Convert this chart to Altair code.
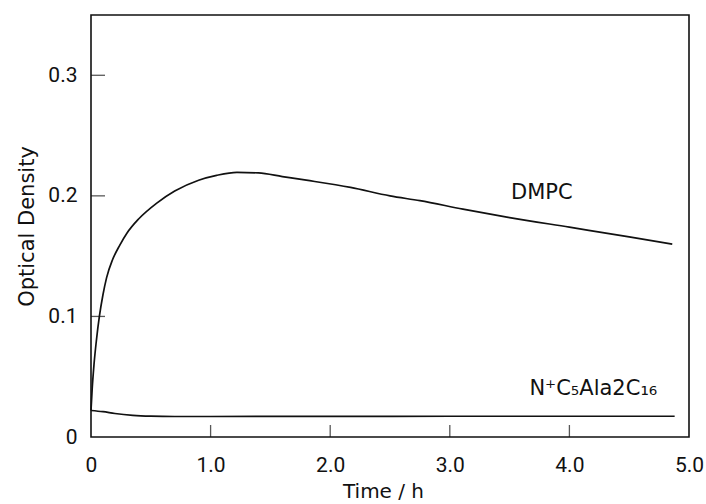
import altair as alt
import pandas as pd

# DMPC curve (time h, optical density)
dmpc_t = [0, 0.01, 0.025, 0.045, 0.07, 0.1, 0.13, 0.18, 0.24, 0.3, 0.4, 0.55, 0.7, 0.9,
          1.05, 1.22, 1.4, 1.6, 1.8, 2.17, 2.5, 2.75, 3.11, 3.5, 4.0, 4.5, 4.86]
dmpc_od = [0.022, 0.040, 0.060, 0.080, 0.100, 0.118, 0.132, 0.147, 0.159, 0.169, 0.181, 0.194,
           0.204, 0.213, 0.217, 0.2195, 0.219, 0.216, 0.213, 0.207, 0.200, 0.196, 0.189,
           0.182, 0.174, 0.166, 0.160]

# N+C5Ala2C16 curve
ala_t = [0, 0.1, 0.2, 0.35, 0.5, 0.7, 1.0, 2.0, 3.0, 4.0, 4.88]
ala_od = [0.022, 0.021, 0.0195, 0.018, 0.0173, 0.0170, 0.0170, 0.0171, 0.0172, 0.0172, 0.0172]

x_ticks = [1.0, 2.0, 3.0, 4.0]
y_ticks = [0.1, 0.2, 0.3]

label_text = ["DMPC", "N⁺C₅Ala2C₁₆"]
label_t = [3.77, 4.2]
label_od = [0.202, 0.040]

df = pd.concat([
    pd.DataFrame({"t": dmpc_t, "od": dmpc_od, "series": "DMPC"}),
    pd.DataFrame({"t": ala_t, "od": ala_od, "series": "Ala"}),
])

xs = alt.Scale(domain=[0, 5], nice=False, zero=False)
ys = alt.Scale(domain=[0, 0.35], nice=False, zero=False)

lab_expr = "datum.value == 0 ? '0' : format(datum.value, '.1f')"
FONT = "Roboto"

x_axis = alt.Axis(values=[0, 1, 2, 3, 4, 5], labelExpr=lab_expr, grid=False, domain=False,
                  ticks=False, tickSize=0, labelPadding=17, labelFont=FONT, labelFontSize=21,
                  labelColor="#111", title="Time / h", titleFont="DejaVu Sans",
                  titleFontSize=20, titleFontWeight="normal", titleColor="#111",
                  titleX=292, titleY=54, titleBaseline="middle", labelFlush=False)
y_axis = alt.Axis(values=[0, 0.1, 0.2, 0.3], labelExpr=lab_expr, grid=False, domain=False,
                  ticks=False, tickSize=0, labelPadding=14, labelFont=FONT, labelFontSize=21,
                  labelColor="#111", title="Optical Density", titleFont="DejaVu Sans",
                  titleFontSize=21, titleFontWeight="normal", titleColor="#111",
                  titleX=-64, titleY=211, titleAngle=-90, titleBaseline="middle",
                  titleAlign="center", labelFlush=False)

lines = alt.Chart(df).mark_line(color="#111", strokeWidth=1.7, interpolate="monotone").encode(
    x=alt.X("t:Q", scale=xs, axis=x_axis),
    y=alt.Y("od:Q", scale=ys, axis=y_axis),
    detail="series:N",
)

xt = alt.Chart(pd.DataFrame({"t": x_ticks})).mark_tick(
    orient="vertical", size=24, thickness=1.3, color="#111", clip=True
).encode(x=alt.X("t:Q", scale=xs), y=alt.datum(0))

yt = alt.Chart(pd.DataFrame({"od": y_ticks})).mark_tick(
    orient="horizontal", size=28, thickness=1.3, color="#111", clip=True
).encode(y=alt.Y("od:Q", scale=ys), x=alt.datum(0))

labels = alt.Chart(pd.DataFrame({"t": label_t, "od": label_od, "txt": label_text})).mark_text(
    font="DejaVu Sans", fontSize=21, color="#111", align="center", baseline="middle"
).encode(x=alt.X("t:Q", scale=xs), y=alt.Y("od:Q", scale=ys), text="txt:N")

chart = alt.layer(lines, xt, yt, labels).properties(
    width=598, height=422,
    padding={"left": 91, "top": 15, "right": 17, "bottom": 67},
    autosize=alt.AutoSizeParams(type="none"),
    background="white",
).configure_view(stroke="#111", strokeWidth=1.6)

chart.save("out.html", embed_options={"renderer": "svg", "actions": False})
